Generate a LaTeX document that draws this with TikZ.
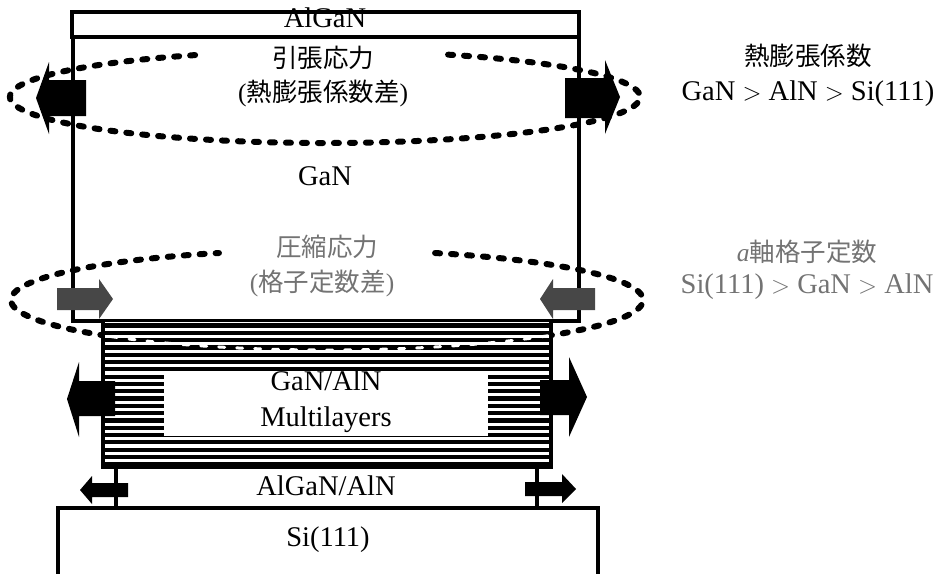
\documentclass[tikz,border=0pt]{standalone}
\usepackage{fontspec}
\setmainfont{Liberation Serif}
\newfontfamily\cjk{Noto Sans CJK JP}
\usetikzlibrary{calc}
\begin{document}
\begin{tikzpicture}[x=1pt,y=-1pt,
  boxline/.style={line width=3.5pt},
  ell/.style={line width=6pt, dash pattern=on 5pt off 11pt, line cap=round},
  lbl/.style={font=\fontsize{28.5}{32}\selectfont, inner sep=0pt, text height=0.66em, text depth=0pt},
  jlbl/.style={font=\fontsize{25.5}{30}\selectfont\cjk, inner sep=0pt, text height=0.76em, text depth=0pt},
  faint/.style={text=black!55},
  arr/.style={fill=black},
  garr/.style={fill=black!72},
]
\useasboundingbox (0,0) rectangle (942,573);
% dashed ellipses
\coordinate (e1) at (325,97);
\coordinate (e2) at (327,300);
\draw[ell] ($(e1)+(-67:315 and 46)$) arc[start angle=-67, end angle=247, x radius=315, y radius=46];
\draw[ell] ($(e2)+(-70:316 and 50)$) arc[start angle=-70, end angle=250, x radius=316, y radius=50];
% AlGaN and GaN boxes
\draw[boxline] (72,12) rectangle (579,37);
\draw[boxline] (73,37) -- (73,321) -- (579,321) -- (579,37);
% multilayers
\fill[white] (103,322) rectangle (551,467);
\foreach \y in {325.5,332.8,...,466} \draw[line width=4.2pt] (103,\y) -- (551,\y);
\begin{scope}
  \clip (105,324) rectangle (549,466);
  \draw[white,line width=3pt, dash pattern=on 6pt off 12pt, line cap=round] ($(e2)+(-70:316 and 50)$) arc[start angle=-70, end angle=250, x radius=316, y radius=50];
\end{scope}
\draw[boxline] (103,321) -- (103,467) -- (551,467) -- (551,321);
\fill[white] (164,373) rectangle (488,436);
% buffer connectors and Si
\draw[line width=4pt] (116,467) -- (116,508);
\draw[line width=4pt] (537,467) -- (537,508);
\draw[boxline] (58,576) -- (58,508) -- (598,508) -- (598,576);
% arrows: tensile (top)
\fill[arr] (36,98) -- (49,62) -- (49,80) -- (86,80) -- (86,116) -- (49,116) -- (49,134) -- cycle;
\fill[arr] (620,97) -- (605,60) -- (605,78) -- (565,78) -- (565,118) -- (605,118) -- (605,134) -- cycle;
% arrows: compressive
\fill[garr] (113,299) -- (99,279) -- (99,288) -- (57,288) -- (57,310) -- (99,310) -- (99,319) -- cycle;
\fill[garr] (540,299) -- (553,279) -- (553,288) -- (595,288) -- (595,310) -- (553,310) -- (553,319) -- cycle;
% arrows: multilayers
\fill[arr] (67,399) -- (79,362) -- (79,381) -- (115,381) -- (115,416) -- (79,416) -- (79,437) -- cycle;
\fill[arr] (587,397) -- (569,357) -- (569,380) -- (540,380) -- (540,415) -- (569,415) -- (569,437) -- cycle;
% arrows: buffer
\fill[arr] (80,490) -- (92,476) -- (92,483) -- (128,483) -- (128,497) -- (92,497) -- (92,504) -- cycle;
\fill[arr] (576,489) -- (562,474) -- (562,482) -- (525,482) -- (525,496) -- (562,496) -- (562,503) -- cycle;
% labels
\node[lbl] (algan) at (325,24) {AlGaN};
\node[jlbl] (tens) at (323,64) {引張応力};
\node[jlbl] (tens2) at (323,98) {{\rmfamily(}熱膨張係数差{\rmfamily)}};
\node[lbl] (gan) at (325,182) {GaN};
\node[jlbl,faint] (comp) at (327,253) {圧縮応力};
\node[jlbl,faint] (comp2) at (322,288) {{\rmfamily(}格子定数差{\rmfamily)}};
\node[lbl] (ml1) at (326,387) {GaN/AlN};
\node[lbl] (ml2) at (326,423) {Multilayers};
\node[lbl] (buf) at (326,492) {AlGaN/AlN};
\node[lbl] (si) at (328,543) {Si(111)};
\node[jlbl] (r1) at (808,62) {熱膨張係数};
\node[lbl] (r2) at (808,97) {GaN $>$ AlN $>$ Si(111)};
\node[jlbl,faint] (r3) at (807,258) {{\rmfamily\itshape a}軸格子定数};
\node[lbl,faint] (r4) at (807,290) {Si(111) $>$ GaN $>$ AlN};
\end{tikzpicture}
\end{document}
